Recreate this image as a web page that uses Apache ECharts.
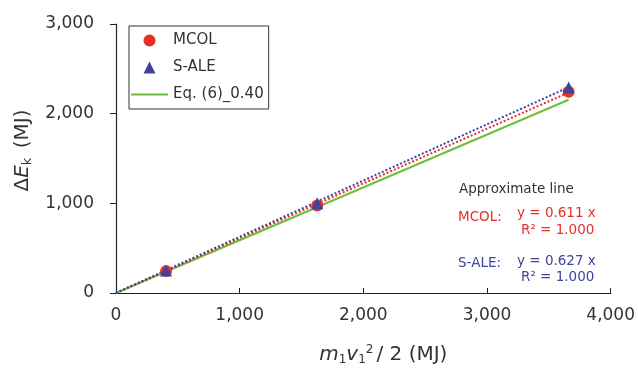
<!DOCTYPE html>
<html>
<head>
<meta charset="utf-8">
<script src="https://cdn.jsdelivr.net/npm/echarts@6/dist/echarts.min.js"></script>
<style>
  html, body { margin: 0; padding: 0; background: #fff; }
  #chart { width: 638px; height: 371px; }
</style>
</head>
<body>
<div id="chart"></div>
<script>
// measured points (MJ)
const xVals = [405, 1627, 3660];
const mcolY = [244, 975, 2245];
const saleY = [252, 1002, 2292];

// approximate lines, end points
const mcolFitX = [0, 3660];
const mcolFitY = [0, 2236];
const saleFitX = [0, 3660];
const saleFitY = [0, 2295];
const eqX = [0, 3660];
const eqY = [0, 2155];

const xTicks = [0, 1000, 2000, 3000, 4000];
const yTicks = [0, 1000, 2000, 3000];

const RED = '#e8302a';
const BLUE = '#40439c';
const GREEN = '#6cbf3a';
const INK = '#333';
const FONT = '"DejaVu Sans", sans-serif';

// legend icons drawn in a 37x14 box (tiny corner specks keep the box size)
const BOX = 'M0,0 L0.01,0 L0,0.01 Z M37,14 L36.99,14 L37,13.99 Z ';
const circleIcon = 'path://' + BOX + 'M24.5,7 A6,6 0 1 1 12.5,7 A6,6 0 1 1 24.5,7 Z';
const triangleIcon = 'path://' + BOX + 'M18.5,1 L24.5,13 L12.5,13 Z';

const pairs = (xs, ys) => xs.map((x, i) => [x, ys[i]]);
const fmt = v => v.toLocaleString('en-US');

const chart = echarts.init(document.getElementById('chart'));

chart.setOption({
  animation: false,
  textStyle: { fontFamily: FONT },
  grid: { left: 116, right: 21, top: 24, bottom: 71 },
  xAxis: {
    type: 'value',
    min: xTicks[0],
    max: xTicks[xTicks.length - 1],
    interval: 1000,
    splitLine: { show: false },
    axisLine: { lineStyle: { color: '#222', width: 1.2 } },
    axisTick: { inside: true, length: 5, lineStyle: { color: '#222' } },
    axisLabel: { color: INK, fontSize: 17, margin: 14, formatter: fmt },
    name: '{i|m}{s|1}{i|v}{s|1}{p|2}{n|/ 2 (MJ)}',
    nameLocation: 'middle',
    nameGap: 51,
    nameTextStyle: {
      padding: [0, 0, 0, 40],
      rich: {
        i: { fontSize: 20, fontStyle: 'italic', color: INK, fontFamily: FONT },
        s: { fontSize: 12, color: INK, verticalAlign: 'bottom', padding: [10, 0, 0, 0], fontFamily: FONT },
        p: { fontSize: 12, color: INK, verticalAlign: 'top', padding: [0, 3, 10, 0], fontFamily: FONT },
        n: { fontSize: 20, color: INK, fontFamily: FONT }
      }
    }
  },
  yAxis: {
    type: 'value',
    min: yTicks[0],
    max: yTicks[yTicks.length - 1],
    interval: 1000,
    splitLine: { show: false },
    axisLine: { show: true, lineStyle: { color: '#222', width: 1.2 } },
    axisTick: { show: true, length: 6, lineStyle: { color: '#222' } },
    axisLabel: { color: INK, fontSize: 17, margin: 22, formatter: fmt },
    name: '{n|Δ}{i|E}{s|k}{n| (MJ)}',
    nameLocation: 'middle',
    nameGap: 73,
    nameRotate: 90,
    nameTextStyle: {
      padding: [0, 0, 0, 16],
      rich: {
        i: { fontSize: 20, fontStyle: 'italic', color: INK, fontFamily: FONT },
        s: { fontSize: 13, color: INK, verticalAlign: 'bottom', padding: [10, 3, 0, 0], fontFamily: FONT },
        n: { fontSize: 20, color: INK, fontFamily: FONT }
      }
    }
  },
  legend: {
    orient: 'vertical',
    left: 129,
    top: 26,
    padding: [7, 5, 7, 1],
    itemGap: 12,
    itemWidth: 37,
    itemHeight: 14,
    borderColor: '#333',
    borderWidth: 1,
    textStyle: { fontSize: 15, color: INK, fontFamily: FONT },
    data: [
      { name: 'MCOL', icon: circleIcon },
      { name: 'S-ALE', icon: triangleIcon },
      { name: 'Eq. (6)_0.40', itemStyle: { opacity: 0 } }
    ]
  },
  series: [
    {
      name: 'Eq. (6)_0.40',
      type: 'line',
      data: pairs(eqX, eqY),
      symbol: 'none',
      lineStyle: { color: GREEN, width: 2 },
      itemStyle: { color: GREEN },
      z: 2
    },
    {
      name: 'MCOL fit',
      type: 'line',
      data: pairs(mcolFitX, mcolFitY),
      symbol: 'none',
      lineStyle: { color: RED, width: 2, type: [2, 2] },
      z: 3
    },
    {
      name: 'S-ALE fit',
      type: 'line',
      data: pairs(saleFitX, saleFitY),
      symbol: 'none',
      lineStyle: { color: BLUE, width: 2, type: [2, 2] },
      z: 3
    },
    {
      name: 'MCOL',
      type: 'scatter',
      data: pairs(xVals, mcolY),
      symbol: 'circle',
      symbolSize: 12,
      itemStyle: { color: RED, opacity: 1 },
      z: 4
    },
    {
      name: 'S-ALE',
      type: 'scatter',
      data: pairs(xVals, saleY),
      symbol: 'triangle',
      symbolSize: 12,
      itemStyle: { color: BLUE, opacity: 1 },
      z: 5
    }
  ],
  graphic: [
    { type: 'text', left: 459, top: 182, style: { text: 'Approximate line', fill: INK, font: '13.5px ' + FONT } },
    { type: 'text', left: 458, top: 210, style: { text: 'MCOL:', fill: RED, font: '13.5px ' + FONT } },
    { type: 'text', left: 517, top: 206, style: { text: 'y = 0.611 x', fill: RED, font: '13.5px ' + FONT } },
    { type: 'text', left: 521, top: 223, style: { text: 'R² = 1.000', fill: RED, font: '13.5px ' + FONT } },
    { type: 'text', left: 458, top: 256, style: { text: 'S-ALE:', fill: BLUE, font: '13.5px ' + FONT } },
    { type: 'text', left: 517, top: 254, style: { text: 'y = 0.627 x', fill: BLUE, font: '13.5px ' + FONT } },
    { type: 'text', left: 521, top: 270, style: { text: 'R² = 1.000', fill: BLUE, font: '13.5px ' + FONT } }
  ]
});
</script>
</body>
</html>
